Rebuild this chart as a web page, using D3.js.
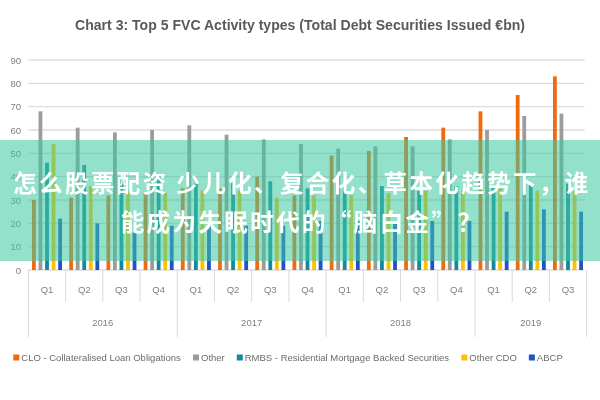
<!DOCTYPE html>
<html>
<head>
<meta charset="utf-8">
<script src="https://cdn.jsdelivr.net/npm/d3@7"></script>
<style>
  html, body { margin: 0; padding: 0; background: #fff; }
  svg { display: block; }
  .chart { filter: blur(0.35px); }
</style>
</head>
<body>
<div id="plot"></div>
<script>
// values (€bn)
const quarters = ['Q1','Q2','Q3','Q4','Q1','Q2','Q3','Q4','Q1','Q2','Q3','Q4','Q1','Q2','Q3'];
const years = ['2016', '2017', '2018', '2019'];
const quartersPerYear = [4, 4, 4, 3];
const yTicks = [0, 10, 20, 30, 40, 50, 60, 70, 80, 90];

const seriesNames = ['CLO - Collateralised Loan Obligations', 'Other',
    'RMBS - Residential Mortgage Backed Securities', 'Other CDO', 'ABCP'];
const clo      = [30, 31, 32, 33, 35, 35, 40, 32, 49, 51, 57, 61, 68, 75, 83];
const other    = [68, 61, 59, 60, 62, 58, 56, 54, 52, 53, 53, 56, 60, 66, 67];
const rmbs     = [46, 45, 39, 40, 37, 38, 38, 35, 36, 36, 34, 36, 36, 37, 37];
const otherCdo = [54, 36, 34, 33, 34, 34, 31, 32, 32, 33, 34, 34, 35, 34, 34];
const abcp     = [22, 20, 16, 19, 21, 19, 19, 21, 21, 20, 21, 21, 25, 26, 25];
const seriesValues = [clo, other, rmbs, otherCdo, abcp];
const seriesColors = ['#f26a10', '#9c9c9c', '#14899d', '#ffc000', '#2253c2'];

const bannerLines = ['怎么股票配资 少儿化、复合化、草本化趋势下，谁', '能成为失眠时代的“脑白金”？'];

const W = 600, H = 400;
const plotLeft = 28.4, plotRight = 586.6, plotTop = 60, plotBottom = 270;
const font = "'Liberation Sans', Arial, sans-serif";

const svg = d3.select('#plot').append('svg')
    .attr('width', W).attr('height', H);
const chart = svg.append('g').attr('class', 'chart');

// title (the original uses a narrow face, so squeeze it to the same width)
chart.append('text')
    .attr('x', 75).attr('y', 30)
    .attr('font-family', font)
    .attr('font-weight', 'bold')
    .attr('font-size', 15)
    .attr('textLength', 450)
    .attr('lengthAdjust', 'spacingAndGlyphs')
    .attr('fill', '#5a5a5a')
    .text('Chart 3: Top 5 FVC Activity types (Total Debt Securities Issued €bn)');

const x = d3.scaleBand()
    .domain(d3.range(quarters.length))
    .range([plotLeft, plotRight]);

const xInner = d3.scaleBand()
    .domain(d3.range(seriesNames.length))
    .range([-15, 15])
    .paddingInner(0.42);

const y = d3.scaleLinear()
    .domain([0, 90])
    .range([plotBottom, plotTop]);

// gridlines
chart.append('g')
    .selectAll('line')
    .data(yTicks)
    .enter()
    .append('line')
    .attr('x1', plotLeft).attr('x2', plotRight - 2)
    .attr('y1', d => y(d)).attr('y2', d => y(d))
    .attr('stroke', '#dcdcdc')
    .attr('stroke-width', 1.4);

// y axis labels
const yAxis = chart.append('g')
    .attr('transform', `translate(21,0)`)
    .call(d3.axisLeft(y).tickValues(yTicks).tickSize(0).tickPadding(0));
yAxis.select('.domain').remove();
yAxis.selectAll('text')
    .attr('font-family', font)
    .attr('font-size', 9.5)
    .attr('fill', '#7f7f7f');

// bars
seriesValues.forEach((vals, s) => {
    chart.append('g')
        .selectAll('rect')
        .data(vals)
        .enter()
        .append('rect')
        .attr('x', (d, i) => x(i) + x.bandwidth() / 2 + xInner(s))
        .attr('y', d => y(d))
        .attr('width', xInner.bandwidth())
        .attr('height', d => plotBottom - y(d))
        .attr('fill', seriesColors[s]);
});

// category axis: quarter separators and year separators
const yearStarts = [0];
quartersPerYear.forEach(n => yearStarts.push(yearStarts[yearStarts.length - 1] + n));

chart.append('g')
    .selectAll('line')
    .data(d3.range(quarters.length + 1))
    .enter()
    .append('line')
    .attr('x1', i => i < quarters.length ? x(i) : plotRight)
    .attr('x2', i => i < quarters.length ? x(i) : plotRight)
    .attr('y1', plotBottom)
    .attr('y2', i => yearStarts.includes(i) ? 337 : 302)
    .attr('stroke', '#d9d9d9')
    .attr('stroke-width', 1);

chart.append('g')
    .selectAll('text')
    .data(quarters)
    .enter()
    .append('text')
    .attr('x', (d, i) => x(i) + x.bandwidth() / 2)
    .attr('y', 293)
    .attr('text-anchor', 'middle')
    .attr('font-family', font)
    .attr('font-size', 9.5)
    .attr('fill', '#7f7f7f')
    .text(d => d);

chart.append('g')
    .selectAll('text')
    .data(years)
    .enter()
    .append('text')
    .attr('x', (d, i) => {
        const a = x(yearStarts[i]);
        const b = yearStarts[i + 1] < quarters.length ? x(yearStarts[i + 1]) : plotRight;
        return (a + b) / 2;
    })
    .attr('y', 326)
    .attr('text-anchor', 'middle')
    .attr('font-family', font)
    .attr('font-size', 9.5)
    .attr('fill', '#7f7f7f')
    .text(d => d);

// legend, laid out in one centered row
const legend = chart.append('g').attr('transform', 'translate(0,358)');
const items = legend.selectAll('g')
    .data(seriesNames)
    .enter()
    .append('g');
items.append('rect')
    .attr('width', 6).attr('height', 6)
    .attr('y', -3.5)
    .attr('fill', (d, i) => seriesColors[i]);
items.append('text')
    .attr('x', 8)
    .attr('y', 3.3)
    .attr('font-family', font)
    .attr('font-size', 9.5)
    .attr('fill', '#6b6b6b')
    .text(d => d);

let widths = [];
items.each(function () { widths.push(this.getBBox().width); });
const gap = 12;
const total = d3.sum(widths) + gap * (widths.length - 1);
let cx = 288 - total / 2;
items.attr('transform', (d, i) => {
    const t = `translate(${cx},0)`;
    cx += widths[i] + gap;
    return t;
});

// overlay banner
svg.append('rect')
    .attr('x', 0).attr('y', 140)
    .attr('width', W).attr('height', 121)
    .attr('fill', 'rgb(60,200,160)')
    .attr('fill-opacity', 0.55);

svg.append('g')
    .selectAll('text')
    .data(bannerLines)
    .enter()
    .append('text')
    .attr('x', 302)
    .attr('y', (d, i) => 192 + i * 39)
    .attr('text-anchor', 'middle')
    .attr('font-family', "'Noto Sans CJK SC', sans-serif")
    .attr('font-weight', 'bold')
    .attr('font-size', 23.5)
    .attr('letter-spacing', 2.4)
    .attr('fill', '#ffffff')
    .text(d => d);
</script>
</body>
</html>
